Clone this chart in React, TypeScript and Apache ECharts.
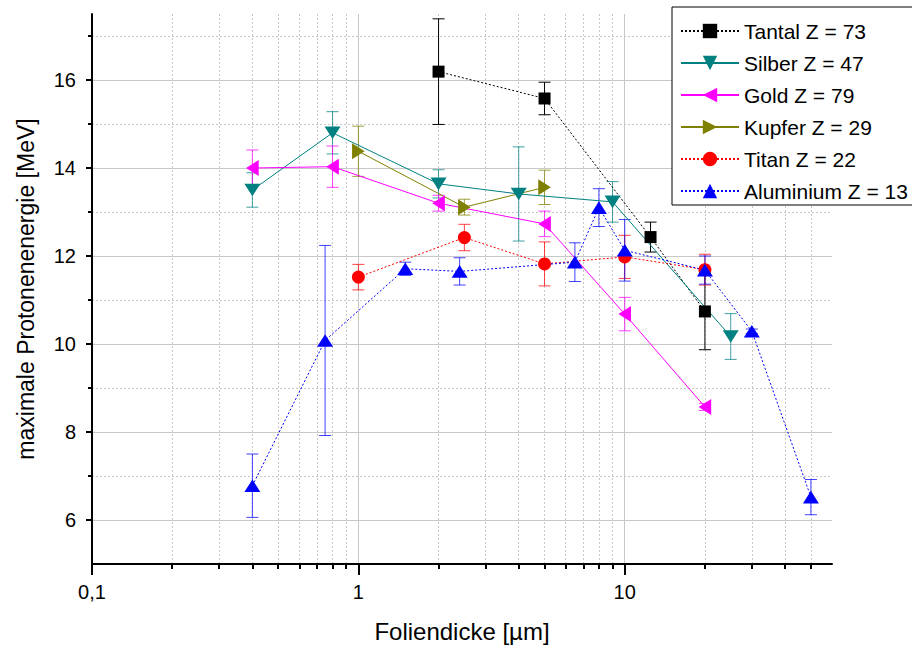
import React, { useEffect, useRef } from 'react';
import * as echarts from 'echarts';

const FONT = 'Liberation Sans, Arial, Helvetica, sans-serif';

const seriesNames = ['Tantal Z = 73', 'Silber Z = 47', 'Gold Z = 79', 'Kupfer Z = 29', 'Titan Z = 22', 'Aluminium Z = 13'];
const seriesColors = ['#000000', '#008080', '#ff00ff', '#808000', '#ff0000', '#0000ff'];

const tantalX = [2, 5, 12.5, 20];
const tantalY = [16.19, 15.58, 12.43, 10.74];
const tantalErr = [1.2, 0.37, 0.34, 0.87];

const silberX = [0.4, 0.8, 2, 4, 9, 25];
const silberY = [13.5, 14.8, 13.64, 13.41, 13.23, 10.17];
const silberErr = [0.39, 0.48, 0.32, 1.07, 0.46, 0.52];

const goldX = [0.4, 0.8, 2, 5, 10, 20];
const goldY = [14.0, 14.03, 13.2, 12.73, 10.68, 8.57];
const goldErr = [0.41, 0.47, 0.18, 0.29, 0.38, 0.08];

const kupferX = [1, 2.5, 5];
const kupferY = [14.38, 13.11, 13.56];
const kupferErr = [0.57, 0.18, 0.39];

const titanX = [1, 2.5, 5, 10, 20];
const titanY = [11.52, 12.42, 11.82, 11.98, 11.69];
const titanErr = [0.29, 0.3, 0.5, 0.49, 0.35];

const aluX = [0.4, 0.75, 1.5, 2.4, 6.5, 8, 10, 20, 30, 50];
const aluY = [6.78, 10.08, 11.71, 11.65, 11.86, 13.1, 12.13, 11.68, 10.29, 6.52];
const aluErr = [0.72, 2.16, 0.15, 0.31, 0.44, 0.43, 0.7, 0.32, 0.05, 0.4];

const xMajorTicks = [0.1, 1, 10];
const xMinorTicks = [0.2, 0.3, 0.4, 0.5, 0.6, 0.7, 0.8, 0.9, 2, 3, 4, 5, 6, 7, 8, 9, 20, 30, 40, 50];
const yMajorTicks = [6, 8, 10, 12, 14, 16];
const yMinorTicks = [7, 9, 11, 13, 15, 17];

const allX = [tantalX, silberX, goldX, kupferX, titanX, aluX];
const allY = [tantalY, silberY, goldY, kupferY, titanY, aluY];
const allErr = [tantalErr, silberErr, goldErr, kupferErr, titanErr, aluErr];

const symbols = [
  'rect',
  'path://M0,0L10,0L5,9Z',
  'path://M9,0L9,10L0,5Z',
  'path://M0,0L9,5L0,10Z',
  'circle',
  'path://M5,0L10,9L0,9Z',
];
const symbolSizes: any[] = [12, [16, 14], [14, 16], [14, 16], 13, [16, 14]];
const lineTypes: any[] = [[2, 2], 'solid', 'solid', 'solid', [2, 2], [2, 2]];

export default function App() {
  const ref = useRef<HTMLDivElement>(null);
  useEffect(() => {
    if (!ref.current) return;
    const chart = echarts.init(ref.current, undefined, { renderer: 'svg' });

    const lineSeries = seriesNames.map((name, s) => ({
      type: 'line',
      name,
      xAxisIndex: 0,
      yAxisIndex: 0,
      data: allX[s].map((x, i) => [x, allY[s][i]]),
      symbol: symbols[s],
      symbolSize: symbolSizes[s],
      symbolKeepAspect: true,
      itemStyle: { color: seriesColors[s], opacity: 1 },
      lineStyle: { color: seriesColors[s], width: 1, type: lineTypes[s] },
      z: 4,
    }));

    const errSeries = seriesNames.map((name, s) => ({
      type: 'custom',
      name: name + ' err',
      xAxisIndex: 0,
      yAxisIndex: 0,
      data: allX[s].map((x, i) => [x, allY[s][i] - allErr[s][i], allY[s][i] + allErr[s][i]]),
      encode: { x: 0, y: [1, 2] },
      z: 3,
      renderItem: (params: any, api: any) => {
        const x = api.value(0);
        const lo = api.coord([x, api.value(1)]);
        const hi = api.coord([x, api.value(2)]);
        const hw = 6;
        const style = { stroke: seriesColors[s], lineWidth: 1, opacity: s === 0 ? 1 : 0.75 };
        return {
          type: 'group',
          children: [
            { type: 'line', shape: { x1: lo[0], y1: lo[1], x2: hi[0], y2: hi[1] }, style },
            { type: 'line', shape: { x1: lo[0] - hw, y1: lo[1], x2: lo[0] + hw, y2: lo[1] }, style },
            { type: 'line', shape: { x1: hi[0] - hw, y1: hi[1], x2: hi[0] + hw, y2: hi[1] }, style },
          ],
        };
      },
    }));

    const option: any = {
      animation: false,
      backgroundColor: '#ffffff',
      textStyle: { fontFamily: FONT },
      grid: { left: 92, right: 80, top: 14, bottom: 87, containLabel: false, outerBoundsMode: 'none' },
      legend: {
        orient: 'vertical',
        left: 672,
        top: 7,
        itemWidth: 58,
        itemHeight: 18,
        itemGap: 10,
        padding: [13, 12, 3, 8],
        borderColor: '#000',
        borderWidth: 1,
        backgroundColor: '#fff',
        textStyle: { fontSize: 21, lineHeight: 22, color: '#000', fontFamily: FONT },
        data: seriesNames,
        selectedMode: false,
      },
      xAxis: [
        {
          type: 'log',
          logBase: 10,
          min: 0.1,
          max: 60,
          position: 'bottom',
          name: 'Foliendicke [µm]',
          nameLocation: 'middle',
          nameGap: 55,
          nameTextStyle: { fontSize: 24, color: '#000', fontFamily: FONT },
          axisLine: { show: true, lineStyle: { color: '#000', width: 2 } },
          axisTick: { show: true, customValues: xMajorTicks, length: 11, inside: false, lineStyle: { color: '#000', width: 2 } },
          axisLabel: {
            customValues: xMajorTicks,
            fontSize: 20,
            color: '#000',
            margin: 18,
            fontFamily: FONT,
            formatter: (v: number) => (v < 0.5 ? '0,1' : String(Math.round(v))),
          },
          splitLine: { show: true, lineStyle: { color: '#c8c8c8', width: 1, type: 'solid' } },
          minorTick: { show: false },
        },
        {
          type: 'log',
          logBase: 10,
          min: 0.1,
          max: 60,
          position: 'bottom',
          axisLine: { show: false },
          axisTick: { show: true, customValues: xMinorTicks, length: 5, inside: false, lineStyle: { color: '#000', width: 2 } },
          axisLabel: { show: false },
          splitLine: { show: true, lineStyle: { color: '#c8c8c8', width: 1, type: [2, 2] } },
        },
      ],
      yAxis: [
        {
          type: 'value',
          min: 5,
          max: 17.5,
          position: 'left',
          name: 'maximale Protonenenergie [MeV]',
          nameLocation: 'middle',
          nameGap: 55,
          nameRotate: 90,
          nameTextStyle: { fontSize: 23, color: '#000', fontFamily: FONT },
          axisLine: { show: true, lineStyle: { color: '#000', width: 2 } },
          axisTick: { show: true, customValues: yMajorTicks, length: 6, inside: false, lineStyle: { color: '#000', width: 2 } },
          axisLabel: { customValues: yMajorTicks, fontSize: 20, color: '#000', margin: 16, fontFamily: FONT },
          splitLine: { show: true, lineStyle: { color: '#c8c8c8', width: 1, type: 'solid' } },
        },
        {
          type: 'value',
          min: 5,
          max: 17.5,
          position: 'left',
          axisLine: { show: false },
          axisTick: { show: true, customValues: yMinorTicks, length: 4, inside: false, lineStyle: { color: '#000', width: 2 } },
          axisLabel: { show: false },
          splitLine: { show: true, lineStyle: { color: '#c8c8c8', width: 1, type: [2, 2] } },
        },
      ],
      series: [...errSeries, ...lineSeries],
    };

    chart.setOption(option);
    return () => chart.dispose();
  }, []);

  return <div ref={ref} style={{ position: 'fixed', left: 0, top: 0, width: 912, height: 651 }} />;
}
